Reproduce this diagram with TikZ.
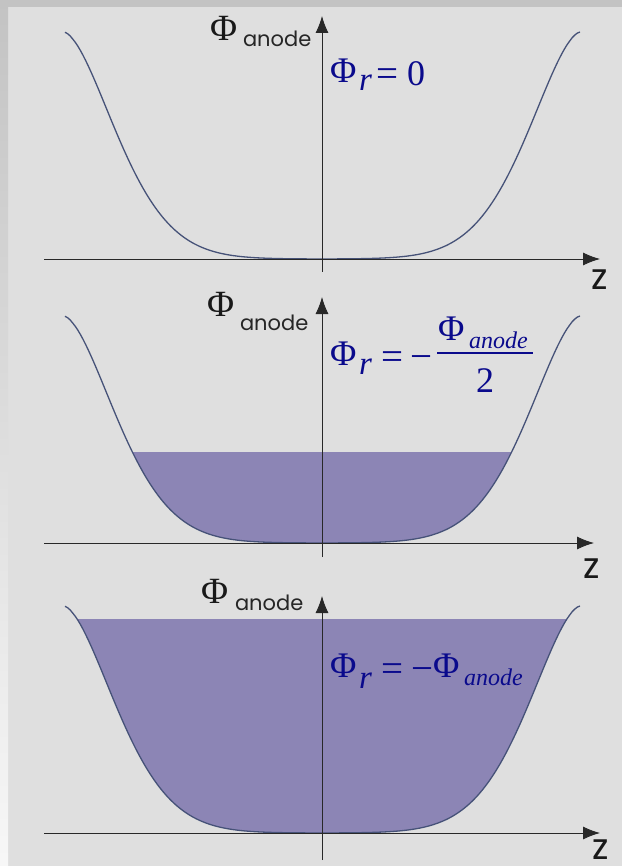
\documentclass[tikz,border=0pt]{standalone}
\usepackage{fontspec}
\setmainfont{Liberation Serif}
\newfontfamily\popf{Poppins}
\usetikzlibrary{arrows.meta}
\definecolor{bgc}{RGB}{223,223,223}
\definecolor{bandc}{RGB}{195,195,195}
\definecolor{fillc}{RGB}{140,133,181}
\definecolor{curvec}{RGB}{70,82,120}
\definecolor{axisc}{RGB}{40,40,40}
\definecolor{mathc}{RGB}{10,10,140}
\tikzset{
  axis/.style={draw=axisc, line width=0.8pt, -{Latex[length=17pt,width=13pt]}},
  curveline/.style={draw=curvec, line width=1.3pt},
  lbl/.style={inner sep=0pt, outer sep=0pt, anchor=base west},
  bigphi/.style={lbl, text=black!90, font=\fontsize{37}{37}\selectfont},
  anodetxt/.style={lbl, text=black!85, font=\popf\fontsize{21}{21}\selectfont},
  zlbl/.style={lbl, text=black!90, font=\popf\fontsize{36}{36}\selectfont},
  mth/.style={lbl, text=mathc, font=\fontsize{36}{36}\selectfont},
  mthop/.style={lbl, text=mathc, font=\fontsize{39}{39}\selectfont},
  mthit/.style={lbl, text=mathc, font=\itshape\fontsize{33}{33}\selectfont},
  mthsub/.style={lbl, text=mathc, font=\itshape\fontsize{24}{24}\selectfont},
}
\begin{document}
\begin{tikzpicture}[x=1pt, y=-1pt]
\useasboundingbox (0,0) rectangle (622,866);
% background
\fill[bgc] (0,0) rectangle (622,866);
\shade[top color=bandc, bottom color=white!97!black] (0,0) rectangle (8,866);
\fill[bandc] (0,0) rectangle (622,7);

% ---------- panel 3 fill ----------
\begin{scope}
  \clip (0,619) rectangle (622,833);
  \fill[fillc] plot[domain=-257:258, samples=201] ({322+\x}, {833-227*exp(-((1-abs(\x)/258.5)/0.281)^1.69)}) -- (580,560) -- (65,560) -- cycle;
\end{scope}
% ---------- panel 2 fill ----------
\begin{scope}
  \clip (0,452) rectangle (622,543);
  \fill[fillc] plot[domain=-257:258, samples=201] ({322+\x}, {543-227*exp(-((1-abs(\x)/258.5)/0.281)^1.69)}) -- (580,280) -- (65,280) -- cycle;
\end{scope}

% ---------- curves ----------
\draw[curveline] plot[domain=-257:258, samples=201] ({322+\x}, {259-227*exp(-((1-abs(\x)/258.5)/0.281)^1.69)});
\draw[curveline] plot[domain=-257:258, samples=201] ({322+\x}, {543-227*exp(-((1-abs(\x)/258.5)/0.281)^1.69)});
\draw[curveline] plot[domain=-257:258, samples=201] ({322+\x}, {833-227*exp(-((1-abs(\x)/258.5)/0.281)^1.69)});

% ---------- axes ----------
\coordinate (x1s) at (44,259);  \coordinate (x1e) at (600,259);
\coordinate (y1s) at (322,272); \coordinate (y1e) at (322,16);
\coordinate (x2s) at (44,543);  \coordinate (x2e) at (594,543);
\coordinate (y2s) at (322,557); \coordinate (y2e) at (322,297);
\coordinate (x3s) at (44,833);  \coordinate (x3e) at (600,833);
\coordinate (y3s) at (322,860); \coordinate (y3e) at (322,596);
\draw[axis] (x1s) -- (x1e);
\draw[axis] (y1s) -- (y1e);
\draw[axis] (x2s) -- (x2e);
\draw[axis] (y2s) -- (y2e);
\draw[axis] (x3s) -- (x3e);
\draw[axis] (y3s) -- (y3e);

% ---------- axis labels ----------
\node[zlbl] (z1) at (591,290) {z};
\node[zlbl] (z2) at (583,578) {z};
\node[zlbl] (z3) at (592,859) {z};

\node[bigphi] (pa1) at (210,41) {Φ};
\node[anodetxt] (an1) at (243,47) {anode};
\node[bigphi] (pa2) at (207,316) {Φ};
\node[anodetxt] (an2) at (240,330) {anode};
\node[bigphi] (pa3) at (201,603) {Φ};
\node[anodetxt] (an3) at (235,610) {anode};

% ---------- panel 1 formula ----------
\node[mth] (f1phi) at (330,83) {Φ};
\node[mthit] (f1r) at (359,91) {r};
\node[mthop] (f1eq) at (376,87) {=};
\node[mth] (f1z) at (407,86) {0};

% ---------- panel 2 formula ----------
\node[mth] (f2phi) at (330,365) {Φ};
\node[mthit] (f2r) at (359,374) {r};
\node[mthop] (f2eq) at (381,369) {=};
\node[mthop] (f2mi) at (410,369) {−};
\draw[mathc, line width=1.3pt] (437,353) -- (533,353);
\node[mth] (f2nphi) at (438,340) {Φ};
\node[mthsub] (f2nan) at (469,348) {anode};
\node[mth] (f2den) at (476,392) {2};

% ---------- panel 3 formula ----------
\node[mth] (f3phi) at (330,677) {Φ};
\node[mthit] (f3r) at (359,688) {r};
\node[mthop] (f3eq) at (381,681) {=};
\node[mthop] (f3mi) at (411,681) {−};
\node[mth] (f3phi2) at (433,677) {Φ};
\node[mthsub] (f3an) at (464,685) {anode};
\end{tikzpicture}
\end{document}
